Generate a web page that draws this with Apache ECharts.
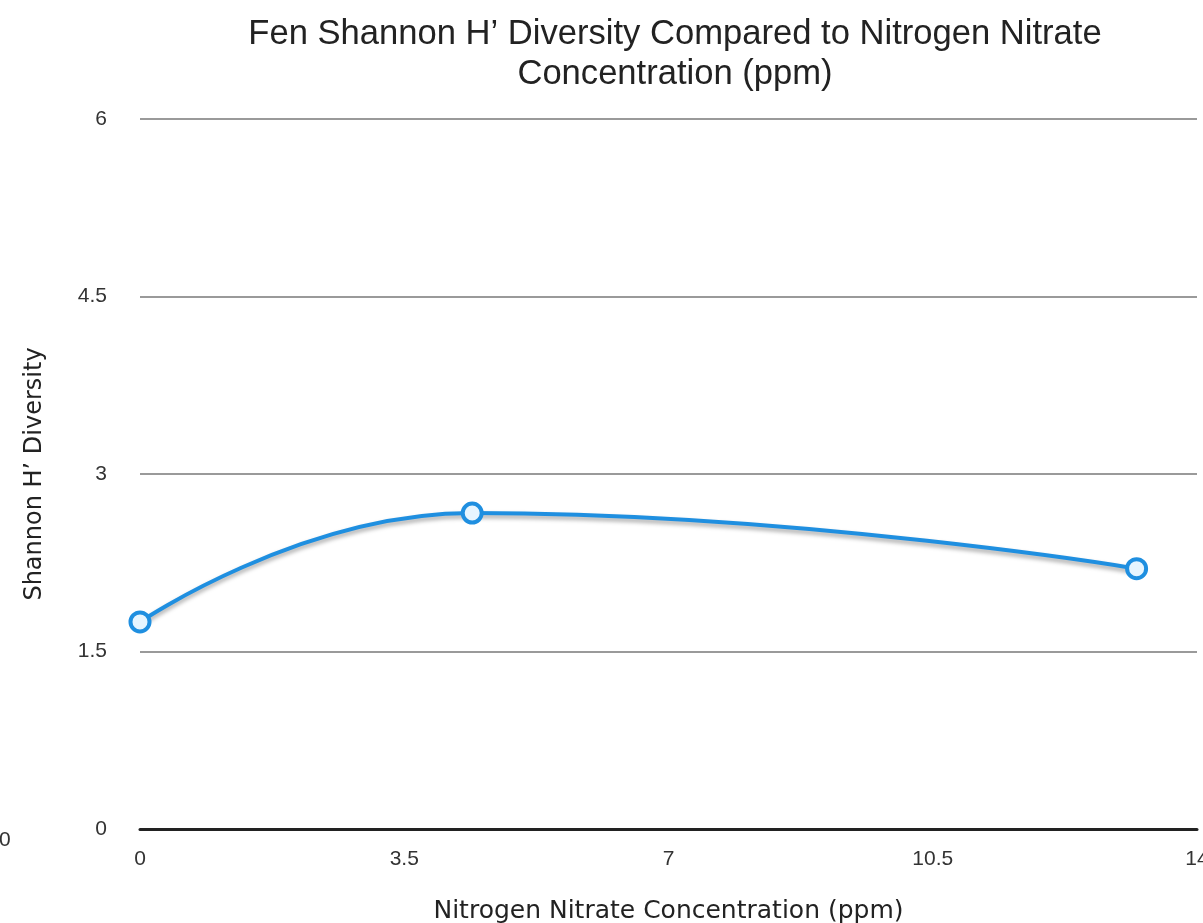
<!DOCTYPE html>
<html>
<head>
<meta charset="utf-8">
<script src="https://cdn.jsdelivr.net/npm/echarts@6/dist/echarts.min.js"></script>
<style>
  html, body { margin: 0; padding: 0; background: #fff; overflow: hidden; }
  #chart { width: 1203px; height: 923px; }
</style>
</head>
<body>
<div id="chart"></div>
<script>
// Nitrate concentration (ppm) and Shannon H' diversity at each fen site
const nitrateValues = [0, 4.4, 13.2];
const diversityValues = [1.75, 2.67, 2.2];

const xTicks = { min: 0, max: 14, interval: 3.5 };
const yTicks = { min: 0, max: 6, interval: 1.5 };

const titleText = "Fen Shannon H\u2019 Diversity Compared to Nitrogen Nitrate\nConcentration (ppm)";
const xAxisName = "Nitrogen Nitrate Concentration (ppm)";
const yAxisName = "Shannon H\u2019 Diversity";

const points = nitrateValues.map((x, i) => [x, diversityValues[i]]);
const titleFont = "'Liberation Sans', Arial, Helvetica, sans-serif";
const labelFont = "'Liberation Sans', Arial, Helvetica, sans-serif";
const nameFont = "'DejaVu Sans', Verdana, sans-serif";

const chart = echarts.init(document.getElementById('chart'));
chart.setOption({
  backgroundColor: '#ffffff',
  animation: false,
  title: {
    text: titleText,
    left: 670,
    textAlign: 'center',
    top: 9,
    textStyle: {
      fontFamily: titleFont,
      fontSize: 34.6,
      fontWeight: 'normal',
      color: '#222',
      lineHeight: 40
    }
  },
  grid: {
    left: 140, right: 6, top: 119, bottom: 94,
    containLabel: false,
    outerBoundsMode: 'none'
  },
  xAxis: {
    type: 'value',
    min: xTicks.min,
    max: xTicks.max,
    interval: xTicks.interval,
    name: xAxisName,
    nameLocation: 'middle',
    nameGap: 70,
    nameTextStyle: { fontFamily: nameFont, fontSize: 25, color: '#222' },
    axisLine: { show: true, onZero: false, lineStyle: { color: '#222', width: 3 } },
    axisTick: { show: false },
    splitLine: { show: false },
    axisLabel: {
      fontFamily: labelFont, fontSize: 21, color: '#333', margin: 20,
      formatter: v => String(v)
    }
  },
  yAxis: {
    type: 'value',
    min: yTicks.min,
    max: yTicks.max,
    interval: yTicks.interval,
    name: yAxisName,
    nameLocation: 'middle',
    nameGap: 93,
    nameRotate: 90,
    nameTextStyle: { fontFamily: nameFont, fontSize: 24, color: '#222' },
    axisLine: { show: false },
    axisTick: { show: false },
    splitLine: { show: true, lineStyle: { color: '#9a9a9a', width: 2 } },
    axisLabel: {
      fontFamily: labelFont, fontSize: 21, color: '#333', margin: 33,
      formatter: v => String(v)
    }
  },
  graphic: [{
    type: 'text',
    left: -1,
    top: 830,
    style: { text: '0', font: '21px ' + labelFont, fill: '#333' }
  }],
  series: [{
    type: 'line',
    data: points,
    smooth: 0.5,
    symbol: 'circle',
    symbolSize: 19,
    lineStyle: {
      color: '#1f8fe0', width: 4,
      shadowColor: 'rgba(0,0,0,0.35)', shadowBlur: 4, shadowOffsetY: 3
    },
    itemStyle: {
      color: '#e6f5ff', borderColor: '#1f8fe0', borderWidth: 4
    },
    z: 5
  }]
});
</script>
</body>
</html>
